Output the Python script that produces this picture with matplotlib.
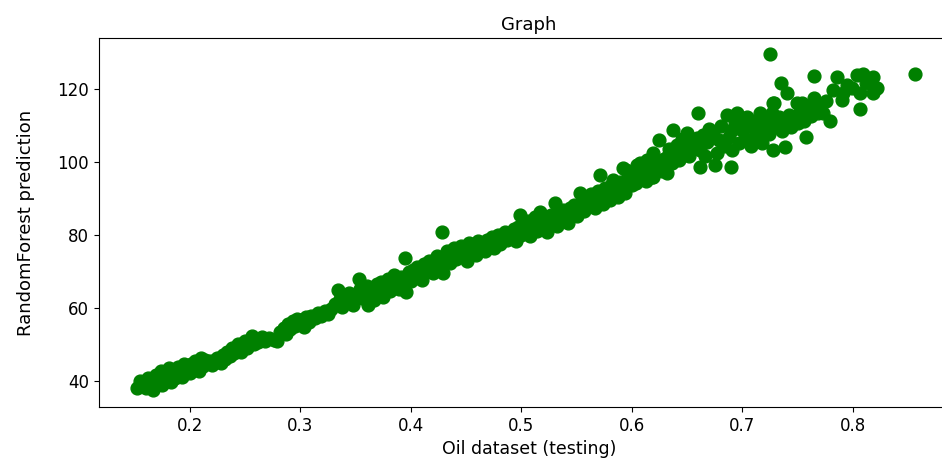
import numpy as np
import matplotlib.pyplot as plt

# testing set values (x) vs random forest predictions (y)
oil_x = [
    # 0.15 - 0.22
    0.152, 0.155, 0.158, 0.160, 0.162, 0.164, 0.166, 0.167, 0.169, 0.170,
    0.172, 0.174, 0.175, 0.177, 0.178, 0.180, 0.181, 0.183, 0.184, 0.186,
    0.187, 0.189, 0.190, 0.192, 0.193, 0.195, 0.196, 0.198, 0.200, 0.201,
    0.203, 0.205, 0.206, 0.208, 0.210, 0.212, 0.214, 0.216, 0.218, 0.220,
    # 0.22 - 0.28
    0.222, 0.225, 0.228, 0.230, 0.232, 0.234, 0.236, 0.238, 0.240, 0.242,
    0.244, 0.246, 0.248, 0.250, 0.252, 0.254, 0.256, 0.258, 0.260, 0.262,
    0.265, 0.268, 0.272, 0.276, 0.279,
    # 0.28 - 0.33
    0.282, 0.285, 0.287, 0.289, 0.291, 0.293, 0.295, 0.297, 0.299, 0.301,
    0.303, 0.305, 0.308, 0.310, 0.313, 0.316, 0.319, 0.322, 0.325, 0.328,
    # 0.33 - 0.39
    0.331, 0.334, 0.336, 0.338, 0.340, 0.342, 0.344, 0.346, 0.348, 0.350,
    0.353, 0.354, 0.356, 0.358, 0.360, 0.361, 0.363, 0.365, 0.367, 0.369,
    0.371, 0.373, 0.375, 0.377, 0.379, 0.381, 0.383, 0.385, 0.387, 0.389,
    # 0.39 - 0.47
    0.391, 0.393, 0.395, 0.396, 0.398, 0.400, 0.402, 0.404, 0.406, 0.408,
    0.410, 0.412, 0.414, 0.416, 0.418, 0.420, 0.422, 0.424, 0.426, 0.428,
    0.429, 0.431, 0.433, 0.435, 0.437, 0.439, 0.441, 0.443, 0.445, 0.447,
    0.449, 0.451, 0.453, 0.455, 0.457, 0.459, 0.461, 0.463, 0.465, 0.467,
    0.469,
    # 0.47 - 0.55
    0.471, 0.473, 0.475, 0.477, 0.479, 0.481, 0.483, 0.485, 0.487, 0.489,
    0.491, 0.493, 0.495, 0.497, 0.499, 0.500, 0.502, 0.504, 0.506, 0.508,
    0.510, 0.512, 0.514, 0.516, 0.517, 0.519, 0.521, 0.523, 0.525, 0.527,
    0.529, 0.530, 0.532, 0.534, 0.536, 0.538, 0.540, 0.542, 0.544, 0.546,
    0.548,
    # 0.55 - 0.62
    0.550, 0.552, 0.553, 0.555, 0.557, 0.559, 0.561, 0.563, 0.565, 0.567,
    0.569, 0.571, 0.572, 0.574, 0.576, 0.578, 0.580, 0.582, 0.583, 0.585,
    0.587, 0.589, 0.591, 0.592, 0.594, 0.595, 0.597, 0.598, 0.600, 0.602,
    0.604, 0.605, 0.607, 0.609, 0.611, 0.613, 0.614, 0.616, 0.618, 0.619,
    0.619,
    # 0.62 - 0.70
    0.622, 0.625, 0.627, 0.629, 0.632, 0.632, 0.634, 0.636, 0.637, 0.639,
    0.641, 0.643, 0.645, 0.647, 0.650, 0.652, 0.654, 0.656, 0.659, 0.660,
    0.662, 0.662, 0.664, 0.666, 0.668, 0.670, 0.673, 0.675, 0.677, 0.679,
    0.681, 0.683, 0.686, 0.688, 0.690, 0.691, 0.691, 0.693, 0.695, 0.697,
    0.699, 0.700,
    # 0.70 - 0.76
    0.702, 0.704, 0.706, 0.708, 0.710, 0.712, 0.713, 0.715, 0.716, 0.718,
    0.720, 0.722, 0.724, 0.725, 0.725, 0.727, 0.728, 0.728, 0.729, 0.731,
    0.733, 0.735, 0.736, 0.738, 0.739, 0.740, 0.742, 0.744, 0.746, 0.749,
    0.750, 0.752, 0.754, 0.756, 0.758, 0.759,
    # 0.76 - 0.86
    0.762, 0.765, 0.765, 0.768, 0.770, 0.773, 0.776, 0.779, 0.782, 0.786,
    0.790, 0.791, 0.795, 0.799, 0.804, 0.806, 0.806, 0.809, 0.812, 0.818,
    0.818, 0.822, 0.856,
]

rf_pred = [
    38.2, 40.1, 39.0, 38.0, 41.0, 39.6, 40.4, 37.6, 41.8, 39.2,
    40.6, 42.9, 38.9, 41.2, 40.0, 42.4, 43.5, 39.9, 41.6, 42.8,
    40.8, 44.0, 42.0, 43.2, 41.2, 44.6, 42.6, 43.9, 42.2, 44.8,
    43.4, 45.4, 44.0, 42.9, 46.4, 44.2, 45.8, 44.9, 45.6, 44.5,
    45.2, 46.4, 44.9, 47.2, 46.0, 48.1, 46.8, 49.0, 47.6, 48.7,
    50.1, 47.9, 49.6, 51.0, 49.2, 50.6, 52.4, 50.2, 51.6, 50.8,
    52.0, 51.1, 51.8, 51.2, 50.9,
    53.4, 54.6, 53.0, 55.8, 54.2, 56.4, 55.0, 57.1, 55.6, 56.8,
    54.9, 57.6, 56.2, 58.0, 57.4, 58.6, 57.9, 59.2, 58.4, 59.8,
    61.2, 65.0, 62.4, 60.4, 63.4, 61.8, 64.2, 62.6, 60.9, 63.8,
    68.0, 65.2, 62.9, 64.6, 66.0, 60.8, 63.6, 65.4, 62.2, 66.6,
    64.4, 67.2, 63.0, 65.8, 68.0, 64.8, 66.8, 69.2, 67.6, 65.2,
    68.6, 66.2, 73.7, 64.4, 69.8, 67.4, 70.6, 68.4, 71.4, 69.2,
    67.8, 72.0, 70.2, 73.0, 71.0, 69.6, 72.6, 74.4, 71.8, 80.8,
    69.6, 73.8, 75.6, 72.4, 74.8, 76.4, 73.4, 75.2, 77.0, 74.2,
    76.0, 73.0, 77.8, 75.4, 76.8, 74.6, 78.4, 76.2, 77.4, 75.8,
    78.8,
    77.0, 79.4, 76.6, 78.2, 80.0, 77.6, 79.0, 81.0, 78.6, 80.4,
    79.2, 81.6, 78.4, 82.2, 85.5, 80.2, 83.0, 81.4, 84.0, 79.8,
    82.6, 85.0, 81.2, 83.6, 86.3, 82.4, 84.6, 80.8, 83.2, 85.6,
    83.8, 88.8, 82.6, 86.2, 84.4, 87.0, 85.2, 83.4, 87.6, 86.0,
    88.2,
    85.4, 87.4, 91.5, 88.8, 86.6, 90.0, 88.0, 91.2, 89.4, 87.6,
    92.0, 96.4, 90.6, 88.6, 93.0, 91.4, 89.6, 94.0, 95.1, 92.4,
    90.4, 94.6, 93.2, 98.4, 91.6, 97.8, 95.2, 97.0, 93.8, 96.2,
    94.4, 99.2, 99.7, 95.6, 97.4, 94.8, 100.5, 98.2, 96.0, 102.5,
    95.9,
    99.4, 106.0, 97.6, 101.0, 101.4, 97.0, 103.6, 99.8, 108.8, 102.2,
    104.8, 100.5, 106.4, 103.0, 108.0, 101.6, 105.0, 103.8, 106.6, 113.4,
    103.3, 98.6, 107.4, 101.8, 105.6, 109.2, 108.2, 99.2, 102.5, 106.0,
    110.0, 104.4, 112.9, 107.0, 98.6, 103.3, 108.8, 110.6, 113.4, 105.4,
    111.2, 108.8,
    106.4, 112.3, 109.6, 104.6, 111.0, 107.6, 106.8, 110.2, 113.4, 105.2,
    109.0, 111.8, 107.8, 129.6, 108.8, 113.6, 116.2, 103.3, 116.2, 110.4,
    112.4, 121.6, 108.6, 111.6, 104.1, 118.9, 113.0, 109.8, 112.2, 116.2,
    110.8, 113.8, 116.2, 111.4, 106.8, 114.8,
    112.6, 123.6, 117.5, 113.6, 115.8, 113.4, 116.8, 111.2, 119.7, 123.3,
    117.0, 118.9, 121.2, 120.5, 123.8, 118.9, 114.5, 124.1, 121.8, 123.4,
    118.9, 120.3, 124.1,
]

x_ticks = [0.2, 0.3, 0.4, 0.5, 0.6, 0.7, 0.8]
y_ticks = [40, 60, 80, 100, 120]

fig = plt.figure(figsize=(9.42, 4.61), dpi=100)
# right spine falls just outside the picture, like the cropped original
ax = fig.add_axes([0.105, 0.117, 0.913, 0.800])

ax.scatter(oil_x, rf_pred, color="green", s=85)

ax.set_xlim(0.1177, 0.896)
ax.set_ylim(32.9, 134.0)
ax.set_xticks(x_ticks)
ax.set_yticks(y_ticks)
ax.tick_params(labelsize=12)

ax.set_title("Graph", fontsize=13)
ax.set_xlabel("Oil dataset (testing)", fontsize=12.5)
ax.set_ylabel("RandomForest prediction", fontsize=13, labelpad=16)

fig.savefig("out.png", dpi=100)
